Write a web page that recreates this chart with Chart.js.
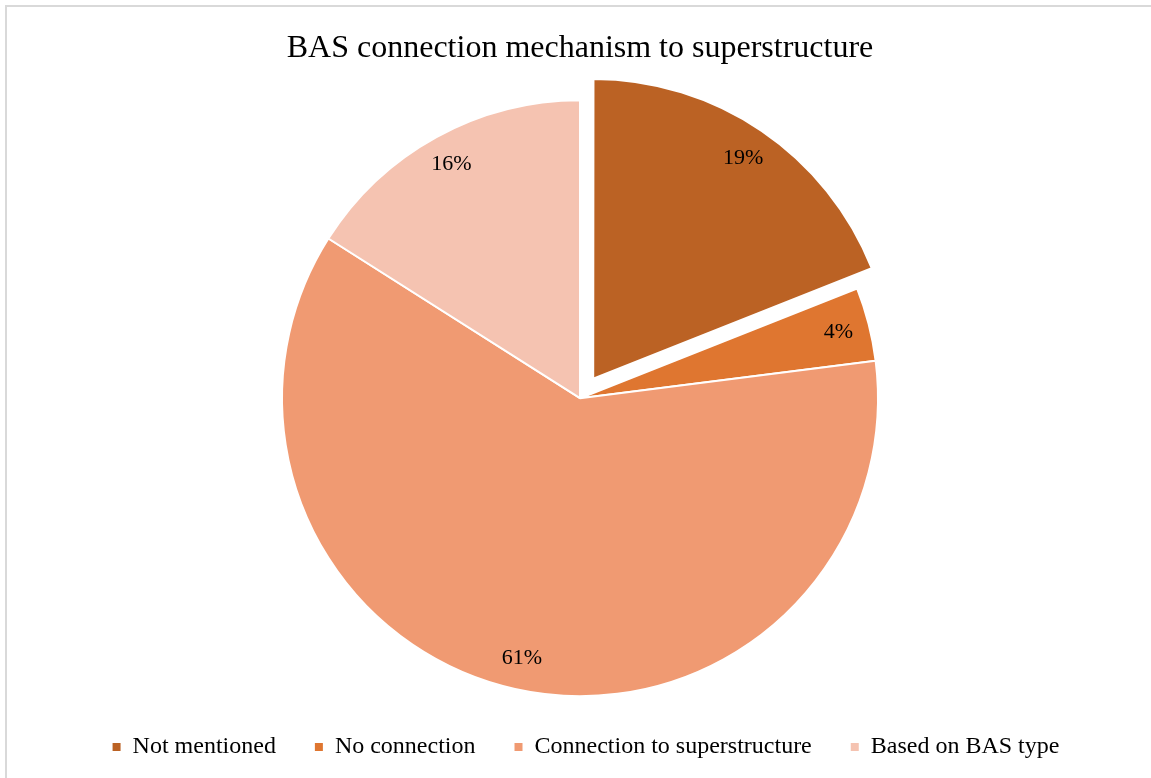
<!DOCTYPE html>
<html>
<head>
<meta charset="utf-8">
<script src="https://cdn.jsdelivr.net/npm/chart.js@4"></script>
<style>
  html, body { margin: 0; padding: 0; background: #fff; overflow: hidden; }
  #frame { position: absolute; left: 5px; top: 5px; width: 1200px; height: 820px; border-top: 2px solid #d9d9d9; border-left: 2px solid #d9d9d9; }
  #wrap { position: absolute; left: 0; top: 0; width: 1151px; height: 778px; }
</style>
</head>
<body>
<div id="frame"></div>
<div id="wrap"><canvas id="pieChart" width="1151" height="778"></canvas></div>
<script>
// data
const categories = ["Not mentioned", "No connection", "Connection to superstructure", "Based on BAS type"];
const shares = [19, 4, 61, 16];
const sliceColors = ["#bb6224", "#df7630", "#f09a72", "#f5c3b1"];
const explodeBy = [94, 0, 0, 0]; // arc offset (drawn /4)

const serif = "'Liberation Serif', 'Times New Roman', serif";

// percentage labels inside each slice
const pctLabels = {
  id: "pctLabels",
  afterDatasetsDraw(chart) {
    const ctx = chart.ctx;
    const meta = chart.getDatasetMeta(0);
    ctx.save();
    ctx.font = "22px " + serif;
    ctx.fillStyle = "#000";
    ctx.textAlign = "center";
    ctx.textBaseline = "middle";
    meta.data.forEach((arc, i) => {
      const mid = (arc.startAngle + arc.endAngle) / 2;
      const shift = (arc.options.offset || 0) / 4;
      const r = arc.outerRadius * 0.895 + shift;
      ctx.fillText(shares[i] + "%", arc.x + Math.cos(mid) * r, arc.y + Math.sin(mid) * r);
    });
    ctx.restore();
  }
};

// legend sits a little right of the pie centre in the original
const nudgeLegend = {
  id: "nudgeLegend",
  afterLayout(chart) {
    chart.legend.left += 6;
    chart.legend.right += 6;
  }
};

const baseLabels = Chart.overrides.doughnut.plugins.legend.labels.generateLabels;

new Chart(document.getElementById("pieChart"), {
  type: "pie",
  data: {
    labels: categories,
    datasets: [{
      data: shares,
      backgroundColor: sliceColors,
      borderColor: "#fff",
      borderWidth: 2,
      offset: explodeBy
    }]
  },
  options: {
    responsive: false,
    animation: false,
    radius: 298,
    layout: { padding: { left: 9, bottom: 9 } },
    plugins: {
      title: {
        display: true,
        text: "BAS connection mechanism to superstructure",
        color: "#000",
        font: { family: serif, size: 32, weight: "normal" },
        padding: { top: 29, bottom: 33 }
      },
      legend: {
        position: "bottom",
        labels: {
          color: "#000",
          font: { family: serif, size: 24 },
          boxWidth: 8,
          boxHeight: 8,
          padding: 39,
          generateLabels: (chart) => baseLabels(chart).map(l => ({ ...l, lineWidth: 0 }))
        }
      },
      tooltip: { enabled: false }
    }
  },
  plugins: [pctLabels, nudgeLegend]
});
</script>
</body>
</html>
